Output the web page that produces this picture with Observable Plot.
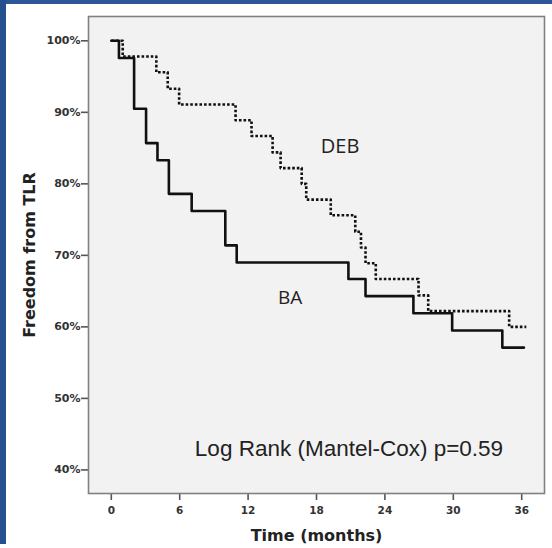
<!DOCTYPE html>
<html>
<head>
<meta charset="utf-8">
<script src="https://cdn.jsdelivr.net/npm/d3@7"></script>
<script src="https://cdn.jsdelivr.net/npm/@observablehq/plot@0.6"></script>
<style>
  html, body { margin: 0; padding: 0; background: #fff; }
  #wrap { position: relative; width: 552px; height: 548px; overflow: hidden; }
  #top { position: absolute; left: 0; top: 0; width: 552px; height: 4px; background: #2f5597; }
  #left { position: absolute; left: 0; top: 0; width: 6px; height: 544px; background: #24508f; }
</style>
</head>
<body>
<div id="wrap"><div id="chart"></div><div id="top"></div><div id="left"></div></div>
<script>
// BA group (solid line): Kaplan-Meier step curve
const baTime = [0, 0.67, 2, 3.05, 4.05, 5.05, 7.05, 10, 11, 20.8, 22.3, 26.5, 29.9, 34.3, 36.2];
const baSurv = [100, 97.6, 90.5, 85.7, 83.3, 78.6, 76.2, 71.4, 69.0, 66.7, 64.3, 61.9, 59.5, 57.1, 57.1];
// DEB group (dotted line)
const debTime = [0, 1.0, 3.95, 4.95, 5.95, 10.9, 12.3, 14.15, 14.85, 16.7, 17.1, 19.25, 21.4, 21.9, 22.3, 23.2, 26.95, 27.8, 34.9, 36.4];
const debSurv = [100, 97.8, 95.6, 93.3, 91.1, 88.9, 86.7, 84.4, 82.2, 80.0, 77.8, 75.6, 73.3, 71.1, 68.9, 66.7, 64.4, 62.2, 60.0, 60.0];
// axis ticks
const xTicks = [0, 6, 12, 18, 24, 30, 36];
const yTicks = [40, 50, 60, 70, 80, 90, 100];
const yTickLabels = ["40%", "50%", "60%", "70%", "80%", "90%", "100%"];
// texts
const groupLabels = ["DEB", "BA"];
const statText = "Log Rank (Mantel-Cox) p=0.59";
const xTitle = "Time (months)";
const yTitle = "Freedom from TLR";

const ba = baTime.map((t, i) => ({t, s: baSurv[i]}));
const deb = debTime.map((t, i) => ({t, s: debSurv[i]}));

const chart = Plot.plot({
  width: 552,
  height: 548,
  marginLeft: 88,
  marginRight: 8,
  marginTop: 16,
  marginBottom: 55,
  style: {fontFamily: "DejaVu Sans", background: "white"},
  x: {domain: [-2, 38]},
  y: {domain: [36.7, 103.4]},
  marks: [
    Plot.frame({fill: "#f2f2f2", stroke: null}),
    Plot.axisX({ticks: xTicks, tickSize: 7, tickPadding: 6, fontSize: 10.5, fontWeight: "bold",
      stroke: "#555", fill: "#333", strokeWidth: 1.6, label: null}),
    Plot.axisY({ticks: yTicks, tickFormat: (d) => yTickLabels[yTicks.indexOf(d)], tickSize: 7, tickPadding: 1,
      fontSize: 11, fontWeight: "bold", stroke: "#555", fill: "#333", strokeWidth: 1.6, label: null}),
    Plot.line(ba, {x: "t", y: "s", curve: "step-after", stroke: "#111", strokeWidth: 2.6}),
    Plot.line(deb, {x: "t", y: "s", curve: "step-after", stroke: "#111", strokeWidth: 2.6,
      strokeDasharray: "2.6,2", strokeLinecap: "butt"}),
    Plot.frame({stroke: "#808080", strokeWidth: 1.6}),
    Plot.text([groupLabels[0]], {x: 20.07, y: 84.3, textAnchor: "middle", lineAnchor: "bottom",
      fontFamily: "Open Sans", fontSize: 20, fill: "#222"}),
    Plot.text([groupLabels[1]], {x: 15.68, y: 63.25, textAnchor: "middle", lineAnchor: "bottom",
      fontFamily: "Open Sans", fontSize: 19, fill: "#222"}),
    Plot.text([statText], {x: 20.85, y: 41.9, textAnchor: "middle", lineAnchor: "bottom",
      fontFamily: "Liberation Sans", fontSize: 22.5, fill: "#222"}),
    Plot.text([xTitle], {frameAnchor: "bottom", dy: 47, textAnchor: "middle", lineAnchor: "bottom",
      fontSize: 16, fontWeight: "bold", fill: "#222"}),
    Plot.text([yTitle], {frameAnchor: "left", dx: -59, rotate: -90, textAnchor: "middle", lineAnchor: "middle",
      fontSize: 16, fontWeight: "bold", fill: "#222"})
  ]
});
document.getElementById("chart").appendChild(chart);
</script>
</body>
</html>
